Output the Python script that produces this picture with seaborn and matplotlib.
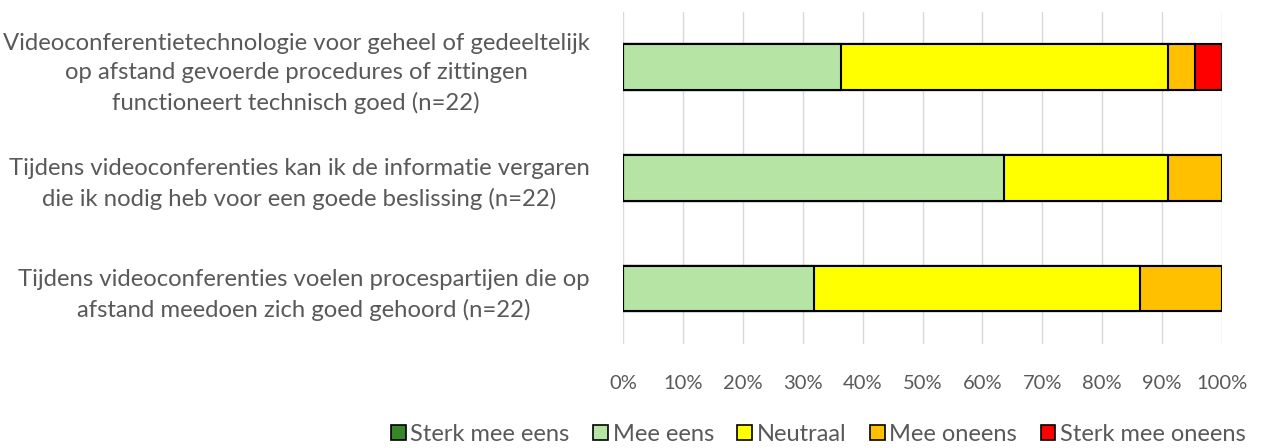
import pandas as pd
import numpy as np
import seaborn as sns
import matplotlib.pyplot as plt
from matplotlib.patches import Patch

statements = [
    "Videoconferentietechnologie voor geheel of gedeeltelijk\nop afstand gevoerde procedures of zittingen\nfunctioneert technisch goed (n=22)",
    "Tijdens videoconferenties kan ik de informatie vergaren\ndie ik nodig heb voor een goede beslissing (n=22)",
    "Tijdens videoconferenties voelen procespartijen die op\nafstand meedoen zich goed gehoord (n=22)",
]

categories = ["Sterk mee eens", "Mee eens", "Neutraal", "Mee oneens", "Sterk mee oneens"]
colors = ["#38862a", "#b5e4a5", "#ffff00", "#ffc000", "#ff0000"]

# answer counts per statement (n=22)
sterk_eens = [0, 0, 0]
mee_eens = [8, 14, 7]
neutraal = [12, 6, 12]
oneens = [1, 2, 3]
sterk_oneens = [1, 0, 0]

counts = np.array([sterk_eens, mee_eens, neutraal, oneens, sterk_oneens], dtype=float)
pct = counts / counts.sum(axis=0) * 100
cum = pct.cumsum(axis=0)

sns.set_theme(style="white")
plt.rcParams["font.family"] = ["Lato", "DejaVu Sans"]
grey = "#595959"

fig = plt.figure(figsize=(12.65, 4.48), dpi=100)
ax = fig.add_axes([0.4925, 0.232, 0.4735, 0.742])

# stacked bars: draw cumulative totals from the back to the front
for i in range(len(categories) - 1, -1, -1):
    df = pd.DataFrame({"statement": statements, "value": cum[i]})
    sns.barplot(
        data=df,
        x="value",
        y="statement",
        color=colors[i],
        edgecolor="black",
        linewidth=1.5,
        width=0.41,
        saturation=1,
        ax=ax,
    )

ax.set_xlim(0, 100)
ax.set_ylim(2.5, -0.5)
ax.set_xticks(range(0, 101, 10))
ax.set_xticklabels([f"{t}%" for t in range(0, 101, 10)])
ax.xaxis.grid(True, color="#d9d9d9", linewidth=1)
ax.set_axisbelow(True)
for s in ax.spines.values():
    s.set_visible(False)
ax.set_xlabel("")
ax.set_ylabel("")
ax.tick_params(axis="x", colors=grey, labelsize=14.5, pad=22, length=0)
ax.tick_params(axis="y", colors=grey, labelsize=17.2, pad=24, length=0)
for lbl in ax.get_yticklabels():
    lbl.set_horizontalalignment("right")
    lbl.set_multialignment("center")
    lbl.set_linespacing(1.5)

handles = [Patch(facecolor=c, edgecolor="black", linewidth=1.2) for c in colors]
fig.legend(
    handles,
    categories,
    loc="center",
    bbox_to_anchor=(0.647, 0.03),
    ncol=5,
    frameon=False,
    fontsize=17,
    handlelength=0.62,
    handleheight=0.62,
    handletextpad=0.2,
    columnspacing=1.0,
    labelcolor=grey,
)

fig.savefig("out.png", dpi=100)
